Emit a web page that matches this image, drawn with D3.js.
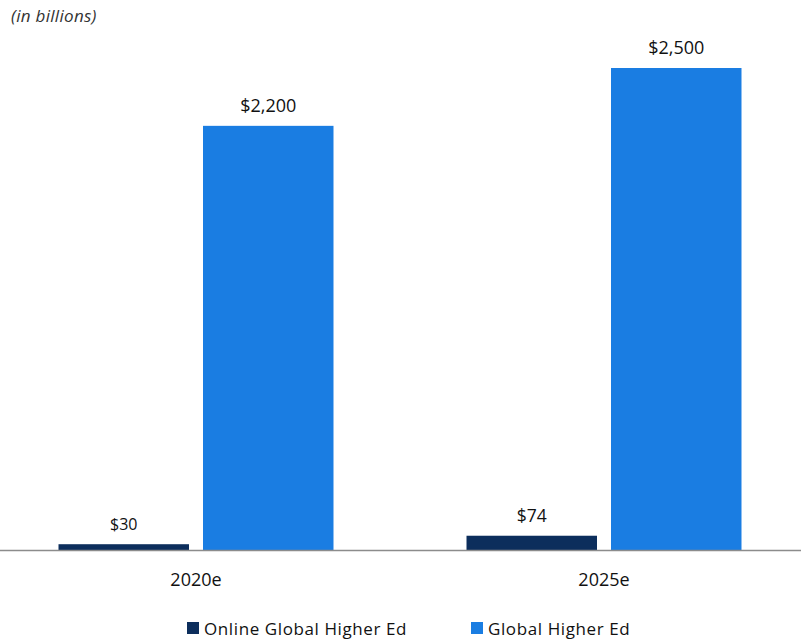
<!DOCTYPE html>
<html>
<head>
<meta charset="utf-8">
<script src="https://cdn.jsdelivr.net/npm/d3@7"></script>
<style>
  body { margin: 0; background: #fff; }
  text { font-family: "Open Sans", sans-serif; fill: #111; }
</style>
</head>
<body>
<svg id="chart" width="801" height="640"></svg>
<script>
var categories = ["2020e", "2025e"];
var seriesNames = ["Online Global Higher Ed", "Global Higher Ed"];
var onlineValues = [30, 74];
var globalValues = [2200, 2500];
var seriesColors = ["#0c2e5c", "#1a7de2"];

var svg = d3.select("#chart");

// outer group scale
var x0 = d3.scaleBand()
    .domain(categories)
    .range([-8, 808])
    .paddingInner(0.326)
    .paddingOuter(0.163);

var x1 = d3.scaleBand()
    .domain(seriesNames)
    .range([0, x0.bandwidth()])
    .paddingInner(0.097);

var y = d3.scaleLinear()
    .domain([0, 2500])
    .range([550, 68]);

var rows = categories.map(function (c, i) {
    return { cat: c, values: [onlineValues[i], globalValues[i]] };
});

var groups = svg.selectAll("g.grp")
    .data(rows)
    .enter()
    .append("g")
    .attr("class", "grp")
    .attr("transform", function (d) { return "translate(" + x0(d.cat) + ",0)"; });

groups.selectAll("rect")
    .data(function (d) { return d.values.map(function (v, j) { return { s: seriesNames[j], v: v, j: j }; }); })
    .enter()
    .append("rect")
    .attr("x", function (d) { return x1(d.s); })
    .attr("y", function (d) { return y(d.v); })
    .attr("width", x1.bandwidth())
    .attr("height", function (d) { return y(0) - y(d.v); })
    .attr("fill", function (d) { return seriesColors[d.j]; });

groups.selectAll("text.val")
    .data(function (d) { return d.values.map(function (v, j) { return { s: seriesNames[j], v: v, j: j }; }); })
    .enter()
    .append("text")
    .attr("class", "val")
    .attr("x", function (d) { return x1(d.s) + x1.bandwidth() / 2; })
    .attr("y", function (d) { return y(d.v) - 14; })
    .attr("text-anchor", "middle")
    .style("font-size", function (d) { return d.j === 0 ? (d.v < 50 ? "16px" : "17.5px") : "18px"; })
    .text(function (d) { return "$" + d3.format(",")(d.v); });

// baseline axis
var xAxis = d3.axisBottom(x0).tickSize(0).tickPadding(0);
var ax = svg.append("g")
    .attr("transform", "translate(0," + y(0) + ")")
    .call(xAxis);
ax.select(".domain").remove();
ax.selectAll("text")
    .attr("y", 36)
    .attr("dy", 0)
    .style("font-size", "18px")
    .style("font-family", "'Open Sans', sans-serif")
    .attr("fill", "#111");

svg.append("line")
    .attr("x1", 0).attr("x2", 801)
    .attr("y1", y(0) + 0.5).attr("y2", y(0) + 0.5)
    .attr("stroke", "#8c8c8c")
    .attr("stroke-width", 1.5);

// unit note
svg.append("text")
    .attr("x", 11)
    .attr("y", 22)
    .style("font-size", "17px")
    .style("letter-spacing", "0.3px")
    .style("font-style", "italic")
    .style("fill", "#333")
    .text("(in billions)");

// legend
var legendX = [187, 471];
var legend = svg.selectAll("g.leg")
    .data(seriesNames)
    .enter()
    .append("g")
    .attr("class", "leg")
    .attr("transform", function (d, i) { return "translate(" + legendX[i] + ",622)"; });

legend.append("rect")
    .attr("width", 12)
    .attr("height", 12)
    .attr("fill", function (d, i) { return seriesColors[i]; });

legend.append("text")
    .attr("x", 17)
    .attr("y", 12.5)
    .style("font-size", "17px")
    .style("letter-spacing", "0.6px")
    .text(function (d) { return d; });
</script>
</body>
</html>
